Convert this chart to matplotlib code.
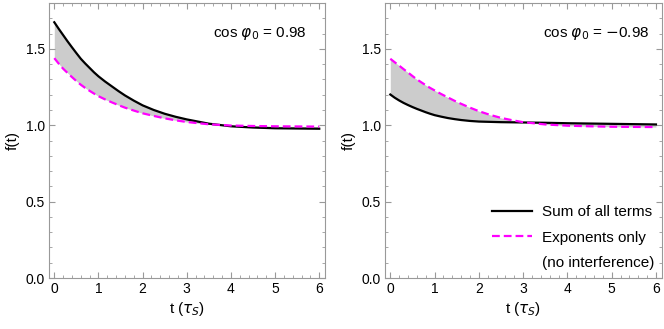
import numpy as np
import matplotlib.pyplot as plt
from matplotlib.lines import Line2D
from matplotlib.ticker import MultipleLocator

plt.rcParams['font.family'] = ['Liberation Sans', 'DejaVu Sans']
plt.rcParams['mathtext.fontset'] = 'dejavusans'

# time grid (units of tau_S)
t = [0, 0.1, 0.2, 0.3, 0.4, 0.5, 0.6, 0.7, 0.8, 0.9, 1.0, 1.15, 1.3, 1.45,
     1.6, 1.8, 2.0, 2.25, 2.5, 2.75, 3.0, 3.5, 4.0, 4.5, 5.0, 6.0]

# cos phi0 = 0.98
sum_pos = [1.674, 1.631, 1.59, 1.549, 1.51, 1.472, 1.435, 1.404, 1.375, 1.346,
           1.32, 1.286, 1.255, 1.224, 1.195, 1.161, 1.13, 1.1, 1.075, 1.055,
           1.038, 1.01, 0.993, 0.985, 0.98, 0.977]
exp_pos = [1.439, 1.403, 1.37, 1.342, 1.315, 1.289, 1.265, 1.244, 1.225, 1.207,
           1.19, 1.169, 1.15, 1.132, 1.115, 1.096, 1.078, 1.061, 1.045, 1.032,
           1.021, 1.006, 0.998, 0.995, 0.993, 0.991]

# cos phi0 = -0.98
sum_neg = [1.201, 1.18, 1.162, 1.146, 1.132, 1.119, 1.107, 1.096, 1.085, 1.075,
           1.066, 1.056, 1.047, 1.04, 1.034, 1.028, 1.024, 1.022, 1.02, 1.019,
           1.018, 1.016, 1.013, 1.011, 1.009, 1.005]
exp_neg = [1.435, 1.412, 1.39, 1.367, 1.345, 1.322, 1.30, 1.281, 1.262, 1.244,
           1.228, 1.204, 1.182, 1.16, 1.14, 1.115, 1.092, 1.068, 1.048, 1.033,
           1.02, 1.005, 0.997, 0.993, 0.99, 0.988]

labels = [r'cos $\varphi_0$ = 0.98', r'cos $\varphi_0$ = $-$0.98']

fig = plt.figure(figsize=(6.64, 3.29), dpi=100)
ax1 = fig.add_axes([49/664, 51/329, 276/664, 275/329])
ax2 = fig.add_axes([385/664, 51/329, 276.7/664, 275/329])

panels = [(ax1, sum_pos, exp_pos, labels[0], 0.935),
          (ax2, sum_neg, exp_neg, labels[1], 0.954)]

dash = (0, (3.5, 1.8))
for ax, s, e, lab, xt in panels:
    ax.fill_between(t, s, e, color='#cccccc', lw=0)
    ax.plot(t, s, color='black', lw=1.6)
    ax.plot(t, e, color='#ff00ff', lw=1.6, ls=dash)
    ax.set_xlim(-0.12, 6.13)
    ax.set_ylim(0, 1.8)
    ax.xaxis.set_major_locator(MultipleLocator(1))
    ax.xaxis.set_minor_locator(MultipleLocator(0.2))
    ax.yaxis.set_major_locator(MultipleLocator(0.5))
    ax.yaxis.set_minor_locator(MultipleLocator(0.1))
    ax.yaxis.set_major_formatter(plt.FormatStrFormatter('%.1f'))
    ax.tick_params(which='both', direction='in', top=True, right=True,
                   color='#999999', labelsize=10, pad=3)
    ax.tick_params(which='major', length=4, width=0.8)
    ax.tick_params(which='minor', length=2, width=0.6)
    for sp in ax.spines.values():
        sp.set_color('#999999')
        sp.set_linewidth(0.8)
    ax.set_xlabel(r't ($\tau_S$)', fontsize=11, labelpad=3)
    ax.set_ylabel('f(t)', fontsize=11, labelpad=4)
    ax.text(xt, 0.89, lab, transform=ax.transAxes, ha='right', va='center',
            fontsize=11)

# legend: second entry spans two text lines, handle sits on the first
handles = [Line2D([], [], color='black', lw=1.6),
           Line2D([], [], color='#ff00ff', lw=1.6, ls=dash),
           Line2D([], [], color='none')]
names = ['Sum of all terms', 'Exponents only', '(no interference)']
ax2.legend(handles, names, loc='lower right', frameon=False, fontsize=11,
           handlelength=2.6, handletextpad=0.65, labelspacing=0.75,
           borderaxespad=0.2, bbox_to_anchor=(1.007, -0.005))

plt.savefig('out.png', dpi=100)
